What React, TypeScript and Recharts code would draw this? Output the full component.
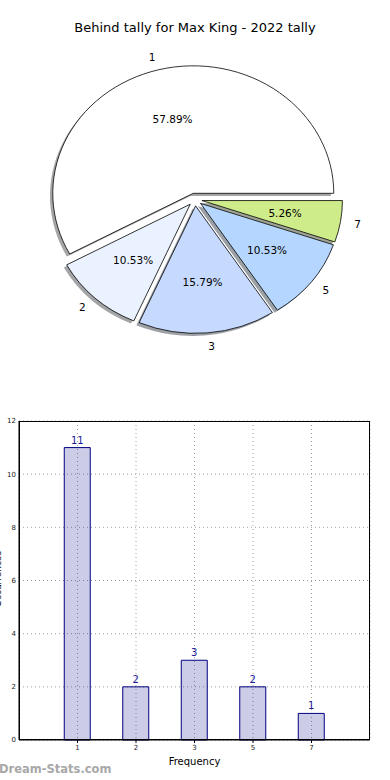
import { Bar, BarChart, CartesianGrid, LabelList, Pie, PieChart, XAxis, YAxis } from 'recharts';

const categories = ['1', '2', '3', '5', '7'];
const counts = [11, 2, 3, 2, 1];
const sliceColors = ['#ffffff', '#ebf2ff', '#c6d9fe', '#b5d7ff', '#cfec8b'];
const yTicks = [0, 2, 4, 6, 8, 10, 12];

const rows = categories.map((name, i) => ({ name, count: counts[i], color: sliceColors[i] }));

// the reference pie is slightly squashed (non-equal aspect), so wedges are elliptical
const RX = 140.5;
const RY = 127.5;
const EXPLODE = 0.05;
const RAD = Math.PI / 180;
const FONT = '"DejaVu Sans", sans-serif';

function explodedCenter(cx: number, cy: number, mid: number) {
  return {
    x: cx + EXPLODE * RX * Math.cos(mid * RAD),
    y: cy - EXPLODE * RY * Math.sin(mid * RAD),
  };
}

function wedgePath(cx: number, cy: number, start: number, end: number) {
  const x1 = cx + RX * Math.cos(start * RAD);
  const y1 = cy - RY * Math.sin(start * RAD);
  const x2 = cx + RX * Math.cos(end * RAD);
  const y2 = cy - RY * Math.sin(end * RAD);
  const large = end - start > 180 ? 1 : 0;
  return `M${cx},${cy} L${x1},${y1} A${RX},${RY} 0 ${large} 0 ${x2},${y2} Z`;
}

function shade(hex: string) {
  const n = parseInt(hex.slice(1), 16);
  const r = Math.round(((n >> 16) & 255) * 0.3);
  const g = Math.round(((n >> 8) & 255) * 0.3);
  const b = Math.round((n & 255) * 0.3);
  return `rgb(${r},${g},${b})`;
}

function WedgeShape(props: any) {
  const { cx, cy, startAngle, endAngle, payload } = props;
  const mid = (startAngle + endAngle) / 2;
  const c = explodedCenter(cx, cy, mid);
  return <path d={wedgePath(c.x, c.y, startAngle, endAngle)} fill={payload.color} stroke="#000" strokeWidth={0.8} />;
}

function ShadowShape(props: any) {
  const { cx, cy, startAngle, endAngle, payload } = props;
  const mid = (startAngle + endAngle) / 2;
  const c = explodedCenter(cx, cy, mid);
  return (
    <path
      d={wedgePath(c.x - 2.8, c.y + 2.6, startAngle, endAngle)}
      fill={shade(payload.color)}
      fillOpacity={0.5}
      stroke="none"
    />
  );
}

function SliceLabel(props: any) {
  const { cx, cy, midAngle, percent, name } = props;
  const c = explodedCenter(cx, cy, midAngle);
  const cos = Math.cos(midAngle * RAD);
  const sin = Math.sin(midAngle * RAD);
  const lx = c.x + 1.1 * RX * cos;
  const ly = c.y - 1.1 * RY * sin;
  const px = c.x + 0.6 * RX * cos;
  const py = c.y - 0.6 * RY * sin;
  return (
    <g style={{ fontFamily: FONT, fontSize: 10.5 }}>
      <text x={lx} y={ly} textAnchor={cos < 0 ? 'end' : 'start'} dominantBaseline="central" fill="#000">
        {name}
      </text>
      <text x={px} y={py} textAnchor="middle" dominantBaseline="central" fill="#000">
        {(percent * 100).toFixed(2)}%
      </text>
    </g>
  );
}

export default function App() {
  return (
    <div style={{ position: 'absolute', left: 0, top: 0, width: 390, height: 780, background: '#fff', overflow: 'hidden' }}>
      <div
        style={{
          position: 'absolute',
          top: 20,
          left: 0,
          width: 390,
          textAlign: 'center',
          fontFamily: FONT,
          fontSize: 13,
          color: '#000',
        }}
      >
        Behind tally for Max King - 2022 tally
      </div>

      <div style={{ position: 'absolute', top: 0, left: 0 }}>
        <PieChart width={390} height={390} margin={{ top: 0, right: 0, bottom: 0, left: 0 }}>
          <Pie
            data={rows}
            dataKey="count"
            nameKey="name"
            cx={195}
            cy={199.5}
            outerRadius={140}
            startAngle={0}
            endAngle={360}
            isAnimationActive={false}
            shape={ShadowShape}
            label={false}
            labelLine={false}
          />
          <Pie
            data={rows}
            dataKey="count"
            nameKey="name"
            cx={195}
            cy={199.5}
            outerRadius={140}
            startAngle={0}
            endAngle={360}
            isAnimationActive={false}
            shape={WedgeShape}
            label={SliceLabel}
            labelLine={false}
          />
        </PieChart>
      </div>

      <div style={{ position: 'absolute', top: 400, left: 0 }}>
        <BarChart width={390} height={380} data={rows} margin={{ top: 21, right: 20, bottom: 0, left: 0 }}>
          <CartesianGrid stroke="#a0a0a0" strokeDasharray="1 3" />
          <XAxis
            dataKey="name"
            padding={{ left: 29.25, right: 29.25 }}
            height={40}
            tickSize={3}
            tickMargin={2}
            tick={{ fontSize: 7, fill: '#222', fontFamily: FONT }}
            axisLine={{ stroke: '#000' }}
            tickLine={{ stroke: '#000' }}
            label={{ value: 'Frequency', position: 'insideBottom', offset: 15, fontSize: 10, fill: '#000', fontFamily: FONT }}
          />
          <YAxis
            domain={[0, 12]}
            ticks={yTicks}
            width={19}
            tickSize={0}
            tickMargin={3}
            tick={{ fontSize: 7, fill: '#222', fontFamily: FONT }}
            axisLine={{ stroke: '#000' }}
          />
          <Bar dataKey="count" barSize={26} fill="#000080" fillOpacity={0.2} stroke="#000080" strokeWidth={1} isAnimationActive={false}>
            <LabelList dataKey="count" position="top" offset={4} fill="#1a1a99" fontSize={10} fontFamily={FONT} />
          </Bar>
        </BarChart>
      </div>

      {/* frame round the bar plot area */}
      <div
        style={{
          position: 'absolute',
          left: 19,
          top: 420.5,
          width: 351,
          height: 319,
          border: '1px solid #000',
          boxSizing: 'border-box',
          pointerEvents: 'none',
        }}
      />

      <div
        style={{
          position: 'absolute',
          left: -32,
          top: 574,
          width: 60,
          textAlign: 'center',
          transform: 'rotate(-90deg)',
          fontFamily: FONT,
          fontSize: 9,
          color: '#000',
          whiteSpace: 'nowrap',
        }}
      >
        Occurrences
      </div>

      <div
        style={{
          position: 'absolute',
          left: -1,
          top: 762,
          fontFamily: FONT,
          fontWeight: 'bold',
          fontSize: 11.5,
          color: '#a8a8a8',
        }}
      >
        Dream-Stats.com
      </div>
    </div>
  );
}
